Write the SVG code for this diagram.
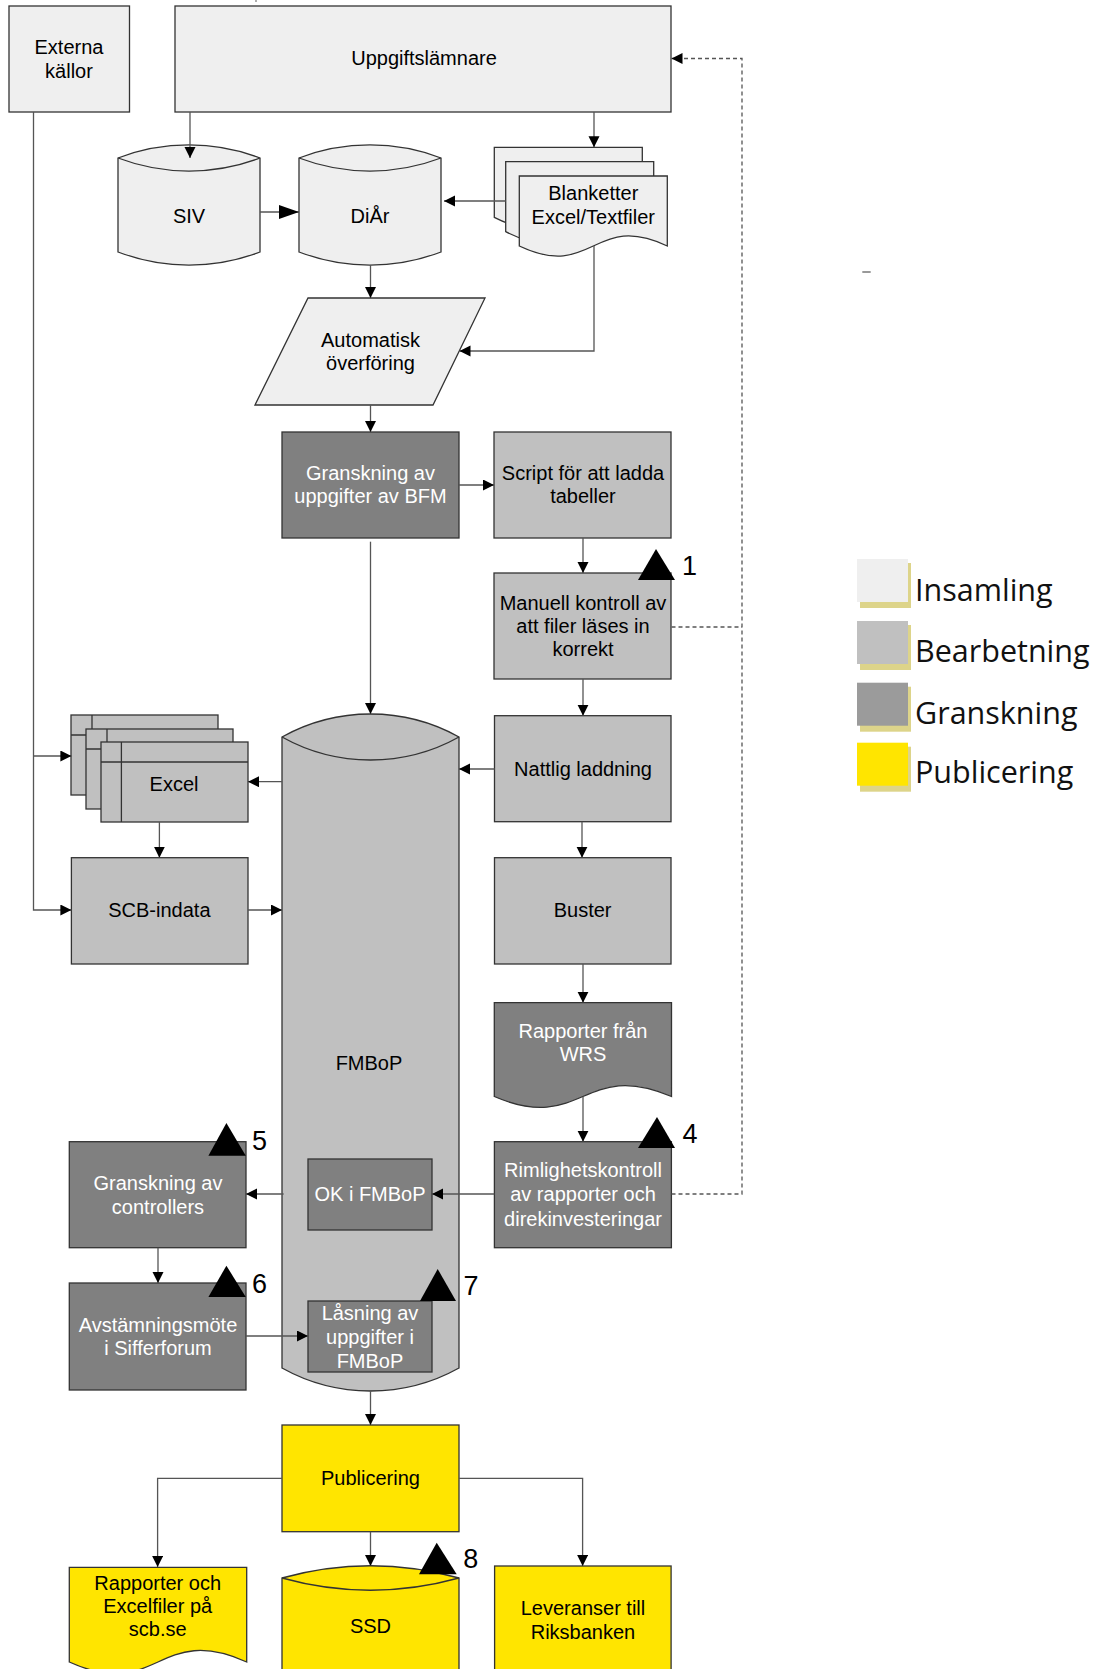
<svg xmlns="http://www.w3.org/2000/svg" width="1094" height="1669" viewBox="0 0 1094 1669">
<defs>
<style>
.n{stroke:#333;stroke-width:1.3}
.ins{fill:#efefef}.bea{fill:#c0c0c0}.gra{fill:#808080}.pub{fill:#ffe500}
.t{font-family:"Liberation Sans",Arial,sans-serif;font-size:20px;text-anchor:middle;fill:#000}
.w{fill:#fff}
.c{fill:none;stroke:#555;stroke-width:1.3}
.d{fill:none;stroke:#555;stroke-width:1.3;stroke-dasharray:4 3}
.tri{fill:#000}
.num{font-family:"Liberation Sans",Arial,sans-serif;font-size:27px;text-anchor:middle;fill:#000}
.lg{font-family:"Open Sans","Noto Sans",sans-serif;font-size:30.5px;fill:#111}
.sh{fill:#ddd48a}
</style>
<marker id="ah" markerUnits="userSpaceOnUse" markerWidth="12" markerHeight="12" refX="11" refY="5.5" orient="auto"><path d="M0,0 L11,5.5 L0,11 z" fill="#000"/></marker>
<marker id="ahb" markerUnits="userSpaceOnUse" markerWidth="21" markerHeight="15" refX="20" refY="7" orient="auto"><path d="M0,0 L20,7 L0,14 z" fill="#000"/></marker>
</defs>
<rect width="1094" height="1669" fill="#fff"/>

<g id="externa">
<rect class="n ins" x="9" y="6" width="120.5" height="106"/>
<text class="t" x="69" y="53.7">Externa</text>
<text class="t" x="69" y="77.7">källor</text>
</g>
<g id="uppgiftslamnare">
<rect class="n ins" x="175" y="6" width="496" height="106"/>
<text class="t" x="424" y="65.3">Uppgiftslämnare</text>
</g>
<g id="siv">
<path class="n ins" d="M118,158 A200,200 0 0 1 260,158 L260,252 A200,200 0 0 1 118,252 Z"/>
<path class="n" fill="none" d="M118,158 A200,200 0 0 0 260,158"/>
<text class="t" x="189" y="223">SIV</text>
</g>
<g id="diar">
<path class="n ins" d="M299,158 A200,200 0 0 1 441,158 L441,252 A200,200 0 0 1 299,252 Z"/>
<path class="n" fill="none" d="M299,158 A200,200 0 0 0 441,158"/>
<text class="t" x="370" y="223">DiÅr</text>
</g>
<g id="blanketter">
<path class="n ins" d="M494.3,147.3 H642.3 V217.3 C568.3,179.3 568.3,255.3 494.3,217.3 Z"/>
<path class="n ins" d="M505.7,161.7 H653.7 V231.7 C579.7,193.7 579.7,269.7 505.7,231.7 Z"/>
<path class="n ins" d="M519.3,176 H667.3 V246 C593.3,211 593.3,281 519.3,246 Z"/>
<text class="t" x="593.3" y="200.3">Blanketter</text>
<text class="t" x="593.3" y="224.3">Excel/Textfiler</text>
</g>
<g id="automatisk">
<polygon class="n ins" points="308,298 485,298 433,405 255,405"/>
<text class="t" x="370.5" y="347">Automatisk</text>
<text class="t" x="370.5" y="370.3">överföring</text>
</g>
<g id="granskning-bfm">
<rect class="n gra" x="282" y="432" width="177" height="106"/>
<text class="t w" x="370.5" y="479.7">Granskning av</text>
<text class="t w" x="370.5" y="503">uppgifter av BFM</text>
</g>
<g id="script">
<rect class="n bea" x="494" y="432" width="177" height="106"/>
<text class="t" x="583" y="479.7">Script för att ladda</text>
<text class="t" x="583" y="503">tabeller</text>
</g>
<g id="manuell">
<rect class="n bea" x="494" y="573" width="177" height="106"/>
<text class="t" x="583" y="609.7">Manuell kontroll av</text>
<text class="t" x="583" y="633">att filer läses in</text>
<text class="t" x="583" y="656.3">korrekt</text>
<polygon class="tri" points="656,549 675,580 638,580"/>
<text class="num" x="689.5" y="575">1</text>
</g>
<g id="fmbop">
<path class="n bea" d="M282,737 A181.8,181.8 0 0 1 459,737 L459,1368 A181.8,181.8 0 0 1 282,1368 Z"/>
<path class="n" fill="none" d="M282,737 A181.8,181.8 0 0 0 459,737"/>
<text class="t" x="369" y="1070">FMBoP</text>
</g>
<g id="nattlig">
<rect class="n bea" x="494.5" y="715.7" width="176.5" height="106"/>
<text class="t" x="583" y="776.3">Nattlig laddning</text>
</g>
<g id="excel">
<rect class="n bea" x="71" y="715" width="147" height="80"/>
<path class="n" fill="none" d="M92,715 V795 M71,735 H218"/>
<rect class="n bea" x="86" y="729" width="147" height="80"/>
<path class="n" fill="none" d="M107,729 V809 M86,749 H233"/>
<rect class="n bea" x="101" y="742" width="147" height="80"/>
<path class="n" fill="none" d="M121.4,742 V822 M101,762 H248"/>
<text class="t" x="174" y="791">Excel</text>
</g>
<g id="scb-indata">
<rect class="n bea" x="71.4" y="857.7" width="176.6" height="106.3"/>
<text class="t" x="159.4" y="917">SCB-indata</text>
</g>
<g id="buster">
<rect class="n bea" x="494.5" y="857.7" width="176.5" height="106.3"/>
<text class="t" x="582.6" y="917">Buster</text>
</g>
<g id="wrs">
<path class="n gra" d="M494.3,1002.7 H671.5 V1096.5 C582.9,1058.5 582.9,1134.5 494.3,1096.5 Z"/>
<text class="t w" x="583" y="1037.7">Rapporter från</text>
<text class="t w" x="583" y="1061.3">WRS</text>
</g>
<g id="rimlighet">
<rect class="n gra" x="494.4" y="1141.7" width="177" height="106"/>
<text class="t w" x="583" y="1177">Rimlighetskontroll</text>
<text class="t w" x="583" y="1201">av rapporter och</text>
<text class="t w" x="583" y="1226">direkinvesteringar</text>
<polygon class="tri" points="657,1117 675,1148 638,1148"/>
<text class="num" x="690" y="1143">4</text>
</g>
<g id="ok">
<rect class="n gra" x="308" y="1159" width="124" height="71"/>
<text class="t w" x="370" y="1201.3">OK i FMBoP</text>
</g>
<g id="controllers">
<rect class="n gra" x="69.3" y="1141.7" width="176.7" height="106"/>
<text class="t w" x="158" y="1189.7">Granskning av</text>
<text class="t w" x="158" y="1213.7">controllers</text>
<polygon class="tri" points="226.4,1123 245.8,1155.7 208.4,1155.7"/>
<text class="num" x="259.5" y="1150">5</text>
</g>
<g id="avstamning">
<rect class="n gra" x="69.3" y="1283" width="176.7" height="107"/>
<text class="t w" x="158" y="1332">Avstämningsmöte</text>
<text class="t w" x="158" y="1355.3">i Sifferforum</text>
<polygon class="tri" points="226.4,1265.7 245.8,1297 208.4,1297"/>
<text class="num" x="259.5" y="1292.5">6</text>
</g>
<g id="lasning">
<rect class="n gra" x="308" y="1301" width="124" height="71"/>
<text class="t w" x="370" y="1320.3">Låsning av</text>
<text class="t w" x="370" y="1344">uppgifter i</text>
<text class="t w" x="370" y="1367.7">FMBoP</text>
<polygon class="tri" points="437.7,1269 456,1301 420,1301"/>
<text class="num" x="471" y="1295">7</text>
</g>
<g id="publicering">
<rect class="n pub" x="282" y="1425" width="177" height="106.7"/>
<text class="t" x="370.5" y="1485.3">Publicering</text>
</g>
<g id="rapporter-scb">
<path class="n pub" d="M69.3,1567.3 H246.7 V1662 C158,1622 158,1702 69.3,1662 Z"/>
<text class="t" x="157.7" y="1589.7">Rapporter och</text>
<text class="t" x="157.7" y="1613">Excelfiler på</text>
<text class="t" x="157.7" y="1636.3">scb.se</text>
</g>
<g id="ssd">
<path class="n pub" d="M282,1578 A332,332 0 0 1 459,1578 L459,1700 L282,1700 Z"/>
<path class="n" fill="none" d="M282,1578 A332,332 0 0 0 459,1578"/>
<text class="t" x="370.5" y="1633">SSD</text>
<polygon class="tri" points="436.7,1542.7 456.7,1574.3 419,1574.3"/>
<text class="num" x="470.7" y="1568.3">8</text>
</g>
<g id="leveranser">
<rect class="n pub" x="494.6" y="1566" width="176.5" height="120"/>
<text class="t" x="583" y="1615.3">Leveranser till</text>
<text class="t" x="583" y="1638.7">Riksbanken</text>
</g>

<g id="connectors">
<path class="c" d="M190,112 V158" marker-end="url(#ah)"/>
<path class="c" d="M594,112 V147.3" marker-end="url(#ah)"/>
<path class="c" d="M260,212 H299" marker-end="url(#ahb)"/>
<path class="c" d="M505.7,201 H444" marker-end="url(#ah)"/>
<path class="c" d="M370.5,265 V298" marker-end="url(#ah)"/>
<path class="c" d="M594,246 V351 H459.5" marker-end="url(#ah)"/>
<path class="c" d="M370.5,405 V432" marker-end="url(#ah)"/>
<path class="c" d="M459,485 H494" marker-end="url(#ah)"/>
<path class="c" d="M370.5,541.7 V714" marker-end="url(#ah)"/>
<path class="c" d="M583,538 V573" marker-end="url(#ah)"/>
<path class="c" d="M583,679 V715.7" marker-end="url(#ah)"/>
<path class="c" d="M494.6,769 H459" marker-end="url(#ah)"/>
<path class="c" d="M282,781.7 H248" marker-end="url(#ah)"/>
<path class="c" d="M33.5,112 V910 H71.4" marker-end="url(#ah)"/>
<path class="c" d="M33.5,756 H71.4" marker-end="url(#ah)"/>
<path class="c" d="M159.4,822 V857.7" marker-end="url(#ah)"/>
<path class="c" d="M248,910 H282" marker-end="url(#ah)"/>
<path class="c" d="M582,821.7 V857.7" marker-end="url(#ah)"/>
<path class="c" d="M583,964 V1002.7" marker-end="url(#ah)"/>
<path class="c" d="M583,1097 V1141.7" marker-end="url(#ah)"/>
<path class="c" d="M494.4,1194 H432" marker-end="url(#ah)"/>
<path class="c" d="M283.6,1194 H246" marker-end="url(#ah)"/>
<path class="c" d="M158,1247.7 V1283" marker-end="url(#ah)"/>
<path class="c" d="M246,1336 H308" marker-end="url(#ah)"/>
<path class="c" d="M370.5,1390 V1425" marker-end="url(#ah)"/>
<path class="c" d="M282,1478.3 H157.6 V1567" marker-end="url(#ah)"/>
<path class="c" d="M370.5,1531.7 V1566" marker-end="url(#ah)"/>
<path class="c" d="M459,1478.3 H582.6 V1566" marker-end="url(#ah)"/>
<path class="d" d="M671.5,627 H742"/>
<path class="d" d="M671.5,1194 H742 V58.5 H671.5" marker-end="url(#ah)"/>
</g>

<g id="legend">
<rect class="sh" x="860" y="563" width="51" height="45"/>
<rect x="857" y="559" width="51" height="43" fill="#efefef"/>
<text class="lg" x="915" y="601">Insamling</text>
<rect class="sh" x="860" y="625" width="51" height="45"/>
<rect x="857" y="621" width="51" height="43" fill="#c0c0c0"/>
<text class="lg" x="915" y="662.3">Bearbetning</text>
<rect class="sh" x="860" y="686.7" width="51" height="45"/>
<rect x="857" y="682.7" width="51" height="43" fill="#9b9b9b"/>
<text class="lg" x="915" y="724">Granskning</text>
<rect class="sh" x="860" y="746.7" width="51" height="45"/>
<rect x="857" y="742.7" width="51" height="43" fill="#ffe500"/>
<text class="lg" x="915" y="783">Publicering</text>
</g>
<line x1="862.3" y1="272" x2="870.7" y2="272" stroke="#777" stroke-width="1.5"/>
<line x1="256" y1="0" x2="256" y2="2" stroke="#777" stroke-width="1.2"/>
</svg>
